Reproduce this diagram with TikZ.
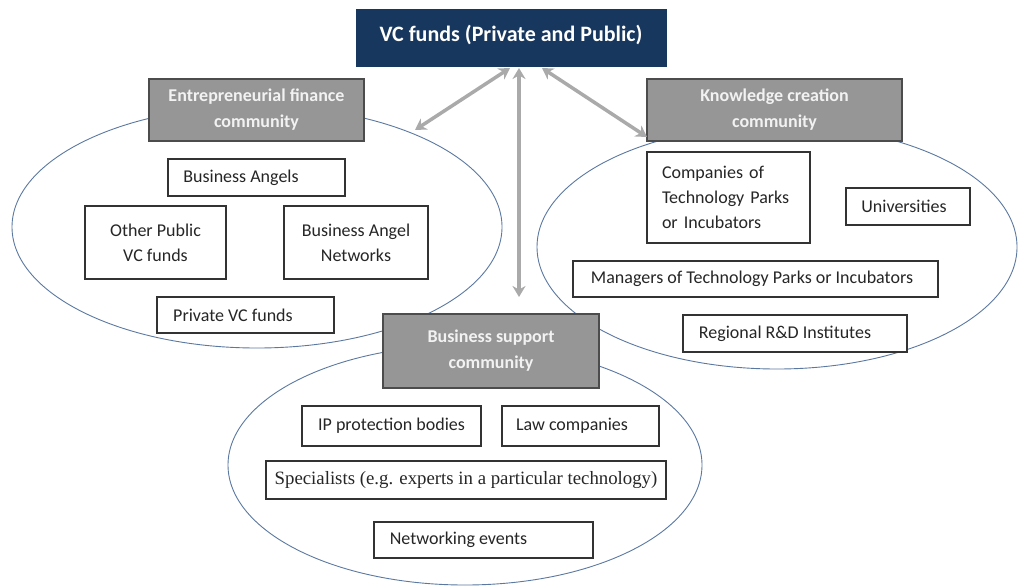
\documentclass[tikz,border=0pt]{standalone}
\usepackage{fontspec}
\setmainfont{Carlito}
\newfontfamily\timesfont{Liberation Serif}
\usetikzlibrary{arrows.meta}
\definecolor{navy}{RGB}{23,55,94}
\definecolor{titlegray}{RGB}{150,150,150}
\definecolor{ringblue}{RGB}{90,120,160}
\definecolor{arrowgray}{RGB}{170,170,170}
\tikzset{
  itembox/.style={draw=black!80, line width=1.2pt, fill=white, inner sep=0pt, align=center, font=\fontsize{18}{25}\selectfont, text=black!85},
  titlebox/.style={draw=black!70, line width=1.2pt, fill=titlegray, inner sep=0pt, align=center, text=white!95!black, font=\bfseries\fontsize{18}{26}\selectfont},
  ring/.style={draw=ringblue, line width=0.9pt},
  link/.style={draw=arrowgray, line width=3.5pt, {Stealth[length=11pt,width=13pt]}-{Stealth[length=11pt,width=13pt]}},
}
\begin{document}
\begin{tikzpicture}[x=1pt,y=-1pt]
\useasboundingbox (0,0) rectangle (1019,587);
% rings
\draw[ring] (257,227) ellipse [x radius=245, y radius=121];
\draw[ring] (777,247) ellipse [x radius=240, y radius=122];
\draw[ring] (465,465) ellipse [x radius=237, y radius=120];
% top box
\node[draw=navy, fill=navy, text=white, font=\bfseries\fontsize{22}{26}\selectfont, minimum width=310pt, minimum height=57pt, inner sep=0pt] (vc) at (511,37.5) {\raisebox{9pt}{VC funds (Private and Public)}};
% community titles
\node[titlebox, minimum width=215pt, minimum height=62pt] (ef) at (256.5,110) {Entrepreneurial finance\\community};
\node[titlebox, minimum width=255pt, minimum height=62pt] (kc) at (774.5,110) {Knowledge creation\\community};
\node[titlebox, minimum width=216pt, minimum height=74pt] (bs) at (491,351) {Business support\\community};
% entrepreneurial finance items
\node[itembox, minimum width=177pt, minimum height=37pt] (ba) at (256.5,177.5) {Business Angels\hspace*{31pt}};
\node[itembox, minimum width=141pt, minimum height=73pt] (op) at (155.5,242.5) {Other Public\\VC funds};
\node[itembox, minimum width=144pt, minimum height=73pt] (ban) at (356,242.5) {Business Angel\\Networks};
\node[itembox, minimum width=177pt, minimum height=36pt] (pv) at (245.5,315) {Private VC funds\hspace*{25pt}};
% knowledge creation items
\node[itembox, minimum width=163pt, minimum height=91pt, text width=133pt, align=left] (co) at (728.5,197.5) {Companies of\\Technology Parks\\or Incubators};
\node[itembox, minimum width=124pt, minimum height=37pt] (un) at (908,206.5) {Universities\hspace*{8pt}};
\node[itembox, minimum width=365pt, minimum height=36pt] (mg) at (755.5,279) {Managers of Technology Parks or Incubators\hspace*{7pt}};
\node[itembox, minimum width=224pt, minimum height=37pt] (rd) at (795,333.5) {Regional R\&D Institutes\hspace*{20pt}};
% business support items
\node[itembox, minimum width=179pt, minimum height=40pt] (ip) at (391.5,426) {IP protection bodies};
\node[itembox, minimum width=157pt, minimum height=40pt] (lc) at (580.5,426) {Law companies\hspace*{17pt}};
\node[itembox, minimum width=400pt, minimum height=38pt, font=\timesfont\fontsize{18.8}{22}\selectfont] (sp) at (466,480) {Specialists (e.g. experts in a particular technology)};
\node[itembox, minimum width=219pt, minimum height=36pt] (ne) at (483.5,540) {Networking events\hspace*{50pt}};
% arrow end points
\coordinate (vcl) at (510,68);
\coordinate (vcm) at (519,68);
\coordinate (vcr) at (542,68);
\coordinate (efa) at (415,130);
\coordinate (kca) at (647,137);
\coordinate (bsa) at (519,297);
\draw[link] (vcl) -- (efa);
\draw[link] (vcm) -- (bsa);
\draw[link] (vcr) -- (kca);
\end{tikzpicture}
\end{document}
